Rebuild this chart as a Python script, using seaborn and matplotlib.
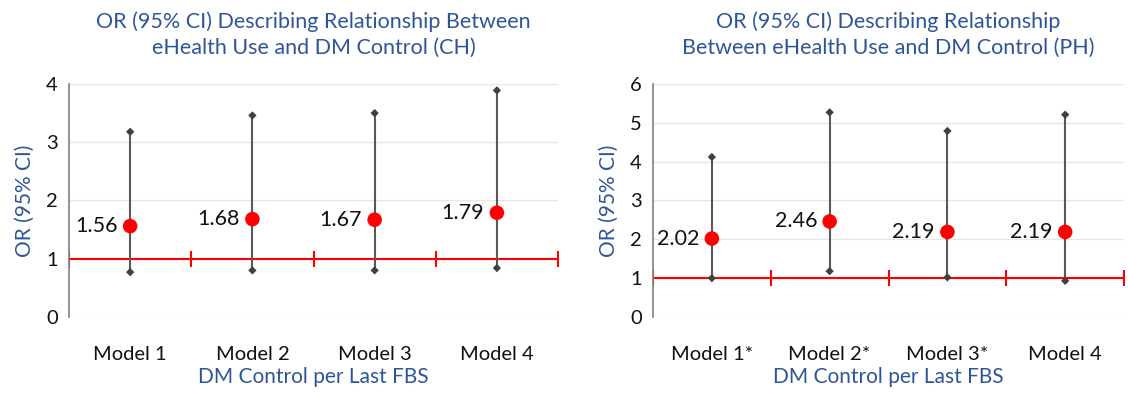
import pandas as pd
import matplotlib
matplotlib.use("Agg")
import matplotlib.pyplot as plt
import seaborn as sns

# Data
models_ch = ["Model 1", "Model 2", "Model 3", "Model 4"]
or_ch = [1.56, 1.68, 1.67, 1.79]
lo_ch = [0.77, 0.80, 0.80, 0.84]
hi_ch = [3.18, 3.46, 3.50, 3.89]

models_ph = ["Model 1*", "Model 2*", "Model 3*", "Model 4"]
or_ph = [2.02, 2.46, 2.19, 2.19]
lo_ph = [1.00, 1.18, 1.02, 0.93]
hi_ph = [4.12, 5.27, 4.79, 5.21]

titles = ["OR (95% CI) Describing Relationship Between\neHealth Use and DM Control (CH)",
          "OR (95% CI) Describing Relationship\nBetween eHealth Use and DM Control (PH)"]
ymax = [4, 6]

sns.set_style("white")
plt.rcParams["font.family"] = ["Lato", "DejaVu Sans"]
blue = "#2F5597"

fig = plt.figure(figsize=(11.28, 3.93), dpi=100)
axes = [fig.add_axes([0.0612, 0.1934, 0.4335, 0.5929]),
        fig.add_axes([0.5789, 0.1934, 0.4176, 0.5929])]

panels = [(models_ch, or_ch, lo_ch, hi_ch), (models_ph, or_ph, lo_ph, hi_ph)]
for ax, (models, ors, los, his), title, top in zip(axes, panels, titles, ymax):
    df = pd.DataFrame({"model": models, "OR": ors, "lo": los, "hi": his})
    pos = list(range(len(models)))

    # grid
    for g in range(top + 1):
        ax.axhline(g, color="#e6e6e6", lw=1, zorder=0)

    # axis crossing at 1 with category tick marks
    edges = [p - 0.5 for p in pos] + [pos[-1] + 0.5]
    ax.plot(edges, [1] * len(edges), color="red", lw=1.5, marker="|",
            ms=12, mew=1.5, zorder=1)

    # CI whiskers
    ax.vlines(pos, df["lo"], df["hi"], color="#595959", lw=1.5, zorder=2)
    ends = pd.DataFrame({"x": pos + pos, "y": list(df["lo"]) + list(df["hi"])})
    sns.scatterplot(data=ends, x="x", y="y", marker="D", s=18, color="#404040",
                    edgecolor="none", ax=ax, zorder=3)

    # point estimates
    pts = pd.DataFrame({"x": pos, "y": df["OR"]})
    sns.scatterplot(data=pts, x="x", y="y", s=110, color="#FF0000",
                    edgecolor="none", ax=ax, zorder=4)
    for x, v in zip(pos, df["OR"]):
        ax.annotate(f"{v:.2f}", (x, v), xytext=(-9, 0), textcoords="offset points",
                    ha="right", va="center", fontsize=15.5, color="#111111")

    ax.set_xlim(-0.5, len(models) - 0.5)
    ax.set_ylim(0, top)
    ax.set_yticks(range(top + 1))
    ax.set_xticks(pos)
    ax.set_xticklabels(models)
    ax.tick_params(axis="both", length=0, labelsize=14.5, colors="#111111")
    ax.tick_params(axis="x", pad=21)
    ax.tick_params(axis="y", pad=8)
    for s in ["top", "right", "bottom"]:
        ax.spines[s].set_visible(False)
    ax.spines["left"].set_color("#7f7f7f")
    ax.spines["left"].set_linewidth(1.2)

    ax.set_xlabel("DM Control per Last FBS", color=blue, fontsize=15, labelpad=3)
    ax.set_ylabel("OR (95% CI)", color=blue, fontsize=15, labelpad=8)
    ax.set_title(title, color=blue, fontsize=15.5, pad=22, linespacing=1.35)

fig.savefig("out.png", dpi=100)
